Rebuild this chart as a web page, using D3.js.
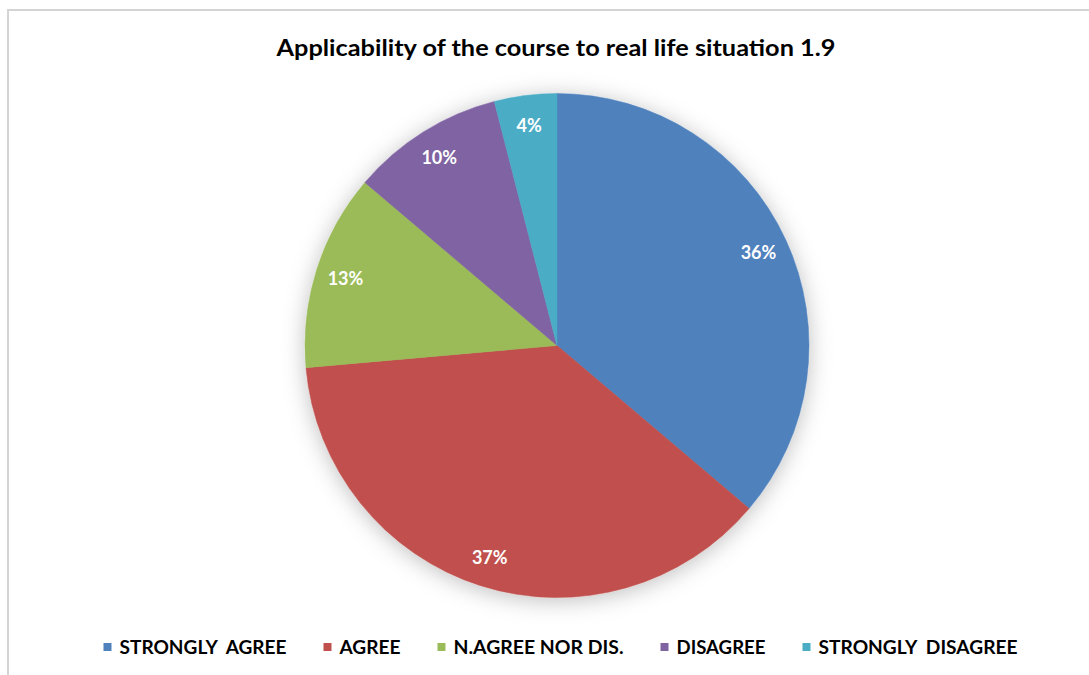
<!DOCTYPE html>
<html>
<head>
<meta charset="utf-8">
<script src="https://cdn.jsdelivr.net/npm/d3@7/dist/d3.min.js"></script>
<style>
  html, body { margin: 0; padding: 0; background: #ffffff; }
  svg { display: block; }
  .f { font-family: Lato, "Open Sans", "Liberation Sans", sans-serif; font-weight: bold; }
</style>
</head>
<body>
<svg id="chart" width="1089" height="675"></svg>
<script>
const title = "Applicability of the course to real life situation 1.9";
const categories = ["STRONGLY  AGREE", "AGREE", "N.AGREE NOR DIS.", "DISAGREE", "STRONGLY  DISAGREE"];
const values = [36.2, 37.4, 12.6, 9.8, 4.0];
const colors = ["#4F81BD", "#C0504D", "#9BBB59", "#8064A2", "#4BACC6"];

const W = 1089, H = 675;
const svg = d3.select("#chart");

// frame
svg.append("rect").attr("x", 8).attr("y", 10).attr("width", W + 20).attr("height", H + 20)
  .attr("fill", "#ffffff").attr("stroke", "#d4d4d4").attr("stroke-width", 2);

const defs = svg.append("defs");
const filt = defs.append("filter").attr("id", "shadow")
  .attr("x", "-25%").attr("y", "-25%").attr("width", "150%").attr("height", "150%");
filt.append("feDropShadow").attr("dx", 0).attr("dy", 3).attr("stdDeviation", 11)
  .attr("flood-color", "#000000").attr("flood-opacity", 0.25);

// title
svg.append("text").attr("class", "f")
  .attr("x", 556).attr("y", 56).attr("text-anchor", "middle")
  .attr("font-size", 23).attr("fill", "#000000").text(title)
  .attr("textLength", 559).attr("lengthAdjust", "spacingAndGlyphs");

// pie
const cx = 557, cy = 345.5, R = 252;
const pie = d3.pie().sort(null).value(d => d)(values);
const arc = d3.arc().innerRadius(0).outerRadius(R);
const labelArc = d3.arc().innerRadius(222).outerRadius(222);

const g = svg.append("g").attr("transform", `translate(${cx},${cy})`);
g.append("g").attr("filter", "url(#shadow)")
  .selectAll("path").data(pie).join("path")
  .attr("d", arc).attr("fill", (d, i) => colors[i])
  .attr("stroke", (d, i) => colors[i]).attr("stroke-width", 0.5);

g.selectAll("text.lbl").data(pie).join("text")
  .attr("class", "lbl f")
  .attr("transform", d => `translate(${labelArc.centroid(d)})`)
  .attr("text-anchor", "middle").attr("dy", "0.36em")
  .attr("font-size", 18).attr("fill", "#ffffff")
  .text(d => Math.round(d.data) + "%");

// legend
const legendTextWidths = [167, 61, 170, 89, 199];
const sq = 8, sqGap = 8, itemGap = 37;
let total = 0;
legendTextWidths.forEach((w, i) => { total += sq + sqGap + w + (i < legendTextWidths.length - 1 ? itemGap : 0); });
let x = 560.5 - total / 2;
const lg = svg.append("g");
categories.forEach((c, i) => {
  lg.append("rect").attr("x", x).attr("y", 643).attr("width", sq).attr("height", sq).attr("fill", colors[i]);
  lg.append("text").attr("class", "f").attr("x", x + sq + sqGap).attr("y", 653.5)
    .attr("font-size", 18).attr("fill", "#000000")
    .attr("textLength", legendTextWidths[i]).attr("lengthAdjust", "spacingAndGlyphs")
    .attr("xml:space", "preserve").style("white-space", "pre")
    .text(c);
  x += sq + sqGap + legendTextWidths[i] + itemGap;
});
</script>
</body>
</html>
